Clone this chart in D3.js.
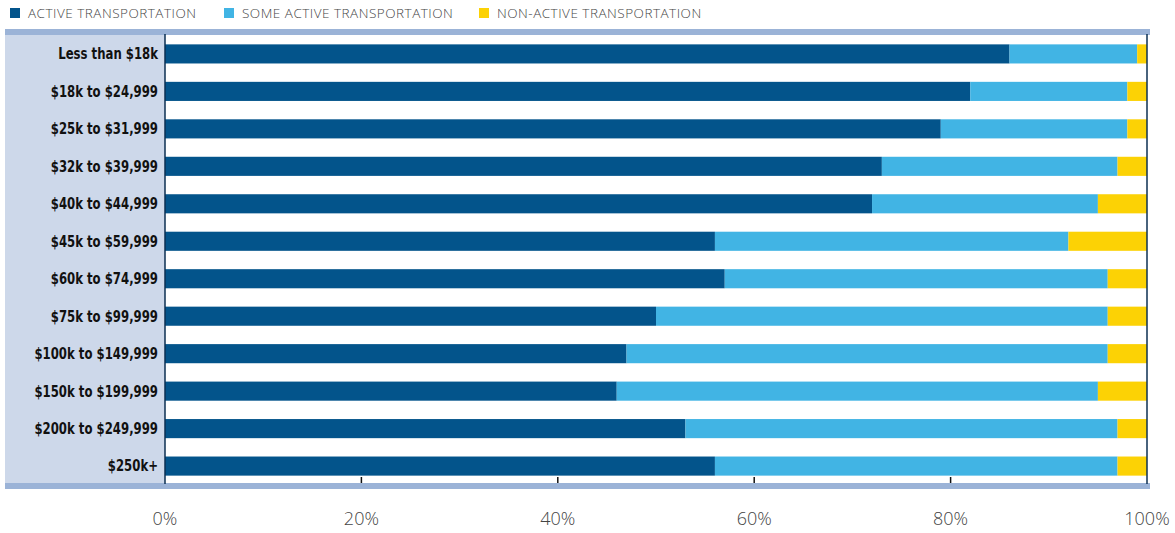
<!DOCTYPE html>
<html>
<head>
<script src="https://cdn.jsdelivr.net/npm/d3@7/dist/d3.min.js"></script>
<style>
  body { margin: 0; background: #fff; }
  svg { display: block; }
</style>
</head>
<body>
<script>
// income brackets, top to bottom
var categories = ['Less than $18k','$18k to $24,999','$25k to $31,999','$32k to $39,999','$40k to $44,999',
  '$45k to $59,999','$60k to $74,999','$75k to $99,999','$100k to $149,999','$150k to $199,999',
  '$200k to $249,999','$250k+'];

// percent of trips
var active    = [86, 82, 79, 73, 72, 56, 57, 50, 47, 46, 53, 56];
var someActive = [13, 16, 19, 24, 23, 36, 39, 46, 49, 49, 44, 41];
var nonActive = [1, 2, 2, 3, 5, 8, 4, 4, 4, 5, 3, 3];

var seriesNames = ['ACTIVE TRANSPORTATION','SOME ACTIVE TRANSPORTATION','NON-ACTIVE TRANSPORTATION'];
var ticks = [0, 20, 40, 60, 80, 100];

var colors = ['#03548b', '#41b4e4', '#fcd205'];
var band = '#9bb3d7';
var panel = '#cdd8ea';

var W = 1175, H = 533;
var svg = d3.select('body').append('svg').attr('width', W).attr('height', H);

var x = d3.scaleLinear().domain([0, 100]).range([165, 1147]);
var y = d3.scaleBand().domain(categories).range([35, 485]).paddingInner(0.49).paddingOuter(0.25);

// label panel on the left
svg.append('rect').attr('x', 5).attr('y', 34).attr('width', 160).attr('height', 450).attr('fill', panel);

// top and bottom bands
svg.append('rect').attr('x', 5).attr('y', 29).attr('width', 1145).attr('height', 6).attr('fill', band);
svg.append('rect').attr('x', 5).attr('y', 483).attr('width', 1145).attr('height', 6).attr('fill', band);

// stacked data
var rows = categories.map(function(c, i) {
  return {cat: c, active: active[i], some: someActive[i], non: nonActive[i]};
});
var stack = d3.stack().keys(['active', 'some', 'non'])(rows);

svg.append('g').selectAll('g')
  .data(stack)
  .join('g')
  .attr('fill', function(d, i) { return colors[i]; })
  .selectAll('rect')
  .data(function(d) { return d; })
  .join('rect')
  .attr('x', function(d) { return x(d[0]); })
  .attr('width', function(d) { return x(d[1]) - x(d[0]); })
  .attr('y', function(d) { return y(d.data.cat); })
  .attr('height', y.bandwidth());

// category labels (squeezed to look like a condensed face)
svg.append('g')
  .attr('transform', 'translate(158,0) scale(0.84,1)')
  .selectAll('text')
  .data(categories)
  .join('text')
  .attr('x', 0)
  .attr('y', function(d) { return y(d) + y.bandwidth() / 2; })
  .attr('dy', '0.35em')
  .attr('text-anchor', 'end')
  .style('font-family', '"DejaVu Sans Condensed", sans-serif')
  .style('font-weight', 'bold')
  .style('font-size', '15.5px')
  .style('fill', '#111')
  .text(function(d) { return d; });

// axis lines
svg.append('line').attr('x1', x(0)).attr('x2', x(0)).attr('y1', 34).attr('y2', 484)
  .attr('stroke', '#0b2f52').attr('stroke-width', 1.5);
svg.append('line').attr('x1', x(100)).attr('x2', x(100)).attr('y1', 34).attr('y2', 484)
  .attr('stroke', '#0b2f52').attr('stroke-width', 1.5);

// small tick marks
svg.append('g').selectAll('line')
  .data(ticks.slice(1, 5))
  .join('line')
  .attr('x1', function(d) { return x(d); })
  .attr('x2', function(d) { return x(d); })
  .attr('y1', 477).attr('y2', 483)
  .attr('stroke', '#111').attr('stroke-width', 1.5);

// tick labels
svg.append('g').selectAll('text')
  .data(ticks)
  .join('text')
  .attr('x', function(d) { return x(d); })
  .attr('y', 525)
  .attr('text-anchor', 'middle')
  .style('font-family', '"Open Sans", sans-serif')
  .style('font-weight', 300)
  .style('font-size', '18px')
  .style('fill', '#444')
  .text(function(d) { return d + '%'; });

// legend
var legendX = [10, 224, 479];
var legend = svg.append('g').selectAll('g')
  .data(seriesNames)
  .join('g')
  .attr('transform', function(d, i) { return 'translate(' + legendX[i] + ',0)'; });
legend.append('rect').attr('x', 0).attr('y', 8).attr('width', 10).attr('height', 10)
  .attr('fill', function(d, i) { return colors[i]; });
legend.append('text')
  .attr('x', 18).attr('y', 18)
  .style('font-family', '"Open Sans", sans-serif')
  .style('font-weight', 300)
  .style('font-size', '13.5px')
  .style('letter-spacing', '0.5px')
  .style('fill', '#444')
  .text(function(d) { return d; });
</script>
</body>
</html>
